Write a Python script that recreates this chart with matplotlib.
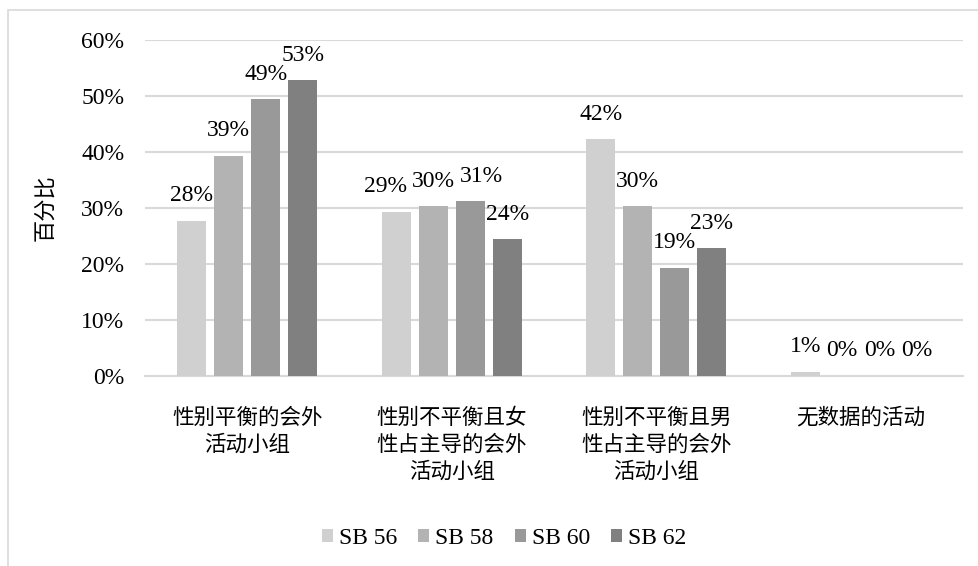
import matplotlib
matplotlib.use('Agg')
import matplotlib.pyplot as plt
import numpy as np
from matplotlib.patches import Rectangle

categories = ['性别平衡的会外\n活动小组',
              '性别不平衡且女\n性占主导的会外\n活动小组',
              '性别不平衡且男\n性占主导的会外\n活动小组',
              '无数据的活动']
series = ['SB 56', 'SB 58', 'SB 60', 'SB 62']
sb56 = [0.277, 0.293, 0.423, 0.008]
sb58 = [0.393, 0.303, 0.303, 0.0]
sb60 = [0.494, 0.312, 0.193, 0.0]
sb62 = [0.528, 0.244, 0.228, 0.0]
yticks = [0, 0.1, 0.2, 0.3, 0.4, 0.5, 0.6]

COLORS = ['#d0d0d0', '#b3b3b3', '#999999', '#808080']
GRID = '#d9d9d9'
SERIF = ['Liberation Serif', 'Noto Sans CJK SC']
CJK = ['Noto Sans CJK SC', 'DejaVu Sans']
# (series, category) -> horizontal nudge in points, like Excel's label collision shift
NUDGE = {(0, 1): -8, (2, 1): 8}

W, H = 979, 566
fig = plt.figure(figsize=(W / 100, H / 100), dpi=100)
fig.patches.append(Rectangle((8 / W, -0.1), 1.2, 1 - 10 / H + 0.1,
                             transform=fig.transFigure, fill=False,
                             edgecolor=GRID, linewidth=1.2))

ax = fig.add_axes([145 / W, 1 - 376 / H, (963 - 145) / W, (376 - 40) / H])
x = np.arange(len(categories))
step, width = 0.181, 0.142
all_vals = [sb56, sb58, sb60, sb62]
for i, (name, vals) in enumerate(zip(series, all_vals)):
    pos = x + (i - 1.5) * step
    ax.bar(pos, vals, width, color=COLORS[i], label=name, zorder=3)
    for j, (px, v) in enumerate(zip(pos, vals)):
        dx = NUDGE.get((i, j), 0)
        ax.annotate(f'{v:.0%}', (px, v), xytext=(dx, 18), textcoords='offset points',
                    ha='center', va='center', fontsize=17, family=SERIF, zorder=4)

ax.set_xlim(-0.5, len(categories) - 0.5)
ax.set_ylim(0, 0.6)
ax.set_yticks(yticks)
ax.set_yticklabels([f'{t:.0%}' for t in yticks], family=SERIF, fontsize=17)
ax.yaxis.grid(True, color=GRID, linewidth=1.5, zorder=0)
ax.set_xticks(x)
ax.set_xticklabels(categories, family=CJK, fontsize=15.5, linespacing=1.3)
ax.tick_params(axis='both', length=0)
ax.tick_params(axis='y', pad=15)
ax.tick_params(axis='x', pad=22)
for s in ['top', 'right', 'left']:
    ax.spines[s].set_visible(False)
ax.spines['bottom'].set_color(GRID)
ax.spines['bottom'].set_linewidth(1.5)
ax.set_ylabel('百分比', family=CJK, fontsize=16)
ax.yaxis.set_label_coords(-(145 - 56) / (963 - 145), 0.5)

fig.legend(loc='center', bbox_to_anchor=(504 / W, 1 - 538 / H), ncol=4, frameon=False,
           prop={'family': SERIF, 'size': 17}, handlelength=0.47, handleheight=0.47,
           handletextpad=0.25, columnspacing=0.9)

fig.savefig('out.png', dpi=100, facecolor='white')
